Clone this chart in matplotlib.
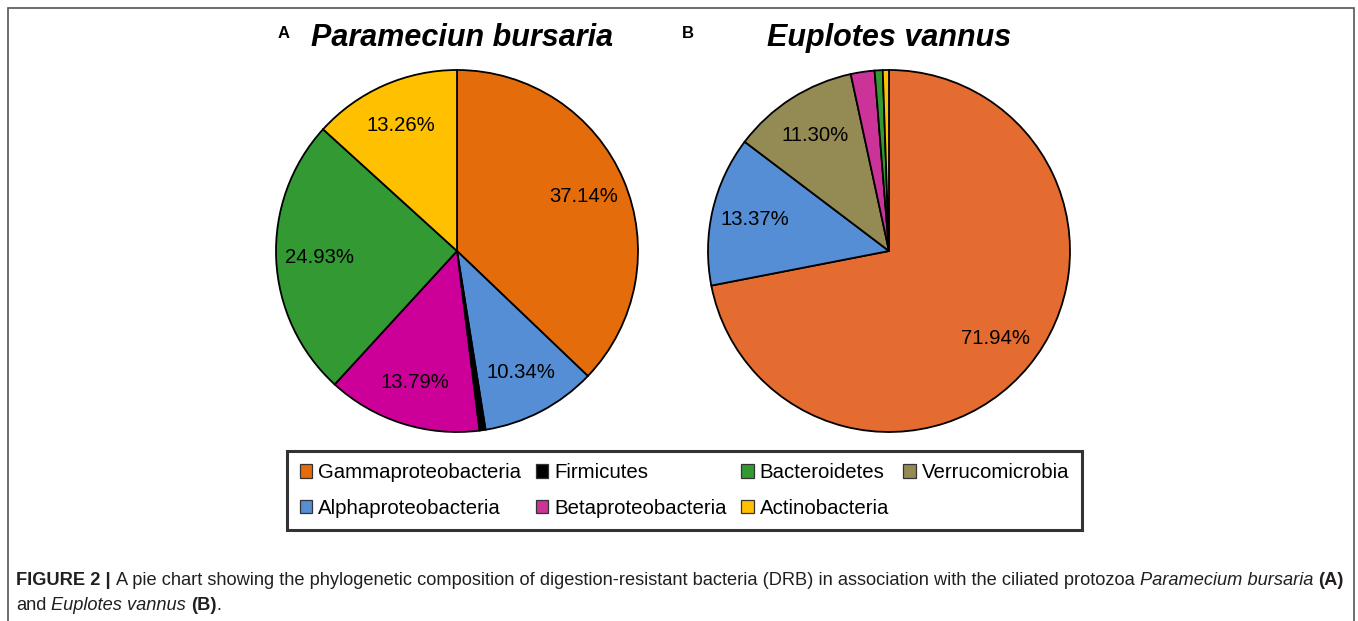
import matplotlib
matplotlib.use("Agg")
import matplotlib.pyplot as plt
from matplotlib.patches import Patch, Rectangle

# ---------------- data ----------------
categories_A = ['Gammaproteobacteria', 'Alphaproteobacteria', 'Firmicutes',
                'Betaproteobacteria', 'Bacteroidetes', 'Actinobacteria']
values_A = [37.14, 10.34, 0.54, 13.79, 24.93, 13.26]

categories_B = ['Gammaproteobacteria', 'Alphaproteobacteria', 'Verrucomicrobia',
                'Betaproteobacteria', 'Bacteroidetes', 'Actinobacteria']
values_B = [71.94, 13.37, 11.30, 2.12, 0.72, 0.55]

title_A = 'Parameciun bursaria'
title_B = 'Euplotes vannus'

legend_order = ['Gammaproteobacteria', 'Alphaproteobacteria', 'Firmicutes',
                'Betaproteobacteria', 'Bacteroidetes', 'Actinobacteria',
                'Verrucomicrobia']

# ---------------- style ----------------
colors_A = {'Gammaproteobacteria': '#E46C0A', 'Alphaproteobacteria': '#558ED5',
            'Firmicutes': '#000000', 'Betaproteobacteria': '#CC0099',
            'Bacteroidetes': '#339933', 'Actinobacteria': '#FFC000'}
colors_B = {'Gammaproteobacteria': '#E46C30', 'Alphaproteobacteria': '#558ED5',
            'Verrucomicrobia': '#948A54', 'Betaproteobacteria': '#CC3399',
            'Bacteroidetes': '#339933', 'Actinobacteria': '#FFC000'}
legend_colors = {'Gammaproteobacteria': '#E46C0A', 'Alphaproteobacteria': '#558ED5',
                 'Firmicutes': '#000000', 'Betaproteobacteria': '#CC3399',
                 'Bacteroidetes': '#339933', 'Actinobacteria': '#FFC000',
                 'Verrucomicrobia': '#948A54'}

plt.rcParams['font.family'] = ['Liberation Sans', 'DejaVu Sans']

W, H = 1358, 621
fig = plt.figure(figsize=(W / 100, H / 100), dpi=100)
fig.patch.set_facecolor('white')

def px_axes(cx, cy, r):
    # cx, cy in image pixel coords (y from top)
    return fig.add_axes([(cx - r) / W, (H - cy - r) / H, 2 * r / W, 2 * r / H])

def autopct(p):
    return f'{p:.2f}%' if p >= 5 else ''

R = 181
for (cx, cats, vals, cmap) in [(457, categories_A, values_A, colors_A),
                               (889, categories_B, values_B, colors_B)]:
    ax = px_axes(cx, 251, R)
    ax.pie(vals, colors=[cmap[c] for c in cats], startangle=90,
           counterclock=False, autopct=autopct, pctdistance=0.76,
           wedgeprops=dict(edgecolor='black', linewidth=1.3),
           textprops=dict(fontsize=14.6, color='black'))
    ax.set_xlim(-1, 1)
    ax.set_ylim(-1, 1)
    ax.set_aspect('equal')
    ax.axis('off')

# Titles
fig.text(284 / W, 1 - 34 / H, 'A', fontsize=12, fontweight='bold', ha='center', va='center')
fig.text(462 / W, 1 - 38 / H, title_A, fontsize=22, fontweight='bold', fontstyle='italic',
         ha='center', va='center')
fig.text(688 / W, 1 - 34 / H, 'B', fontsize=12, fontweight='bold', ha='center', va='center')
fig.text(889 / W, 1 - 38 / H, title_B, fontsize=22, fontweight='bold', fontstyle='italic',
         ha='center', va='center')

# Legend
handles = [Patch(facecolor=legend_colors[c], edgecolor='#333333', linewidth=0.9)
           for c in legend_order]
leg = fig.legend(handles, legend_order, ncol=4, mode='expand', loc='center',
                 bbox_to_anchor=(287 / W, 91 / H, 795 / W, 79 / H),
                 fontsize=14.7, frameon=True, fancybox=False,
                 handlelength=0.62, handleheight=0.62, handletextpad=0.28,
                 labelspacing=0.81, borderpad=0.62, columnspacing=0.8,
                 borderaxespad=0)
leg.get_frame().set_edgecolor('black')
leg.get_frame().set_linewidth(2.2)

# Outer frame
fig.add_artist(Rectangle((8 / W, -0.05), (1354 - 8) / W, (H - 8) / H + 0.05,
                         transform=fig.transFigure, fill=False,
                         edgecolor='#555555', linewidth=1.2))

# Caption with mixed styles
renderer = fig.canvas.get_renderer()
cap_color = '#231F20'
cap_size = 13.12

def advance(s, **kw):
    # horizontal advance of string s, including leading/trailing spaces
    t1 = fig.text(0, 0, 'x' + s + 'x', fontsize=cap_size, **kw)
    t2 = fig.text(0, 0, 'xx', fontsize=cap_size, **kw)
    w = t1.get_window_extent(renderer).width - t2.get_window_extent(renderer).width
    t1.remove()
    t2.remove()
    return w

def draw_runs(runs, x0, ybase):
    x = x0
    for s, kw in runs:
        lead = s[:len(s) - len(s.lstrip(' '))]
        core = s.strip(' ')
        x += advance(lead, **kw) if lead else 0
        if core:
            fig.text(x / W, 1 - ybase / H, core, fontsize=cap_size, color=cap_color,
                     ha='left', va='baseline', **kw)
        x += advance(s.lstrip(' '), **kw)

B = dict(fontweight='bold')
I = dict(fontstyle='italic')
N = dict()
line1 = [('FIGURE 2 |', B), (' A pie chart showing the phylogenetic composition of '
         'digestion-resistant bacteria (DRB) in association with the ciliated protozoa ', N),
         ('Paramecium bursaria', I), (' ', N), ('(A)', B)]
line2 = [('and ', N), ('Euplotes vannus', I), (' ', N), ('(B)', B), ('.', N)]
draw_runs(line1, 16, 585)
draw_runs(line2, 16, 610)

fig.savefig('out.png', dpi=100)
